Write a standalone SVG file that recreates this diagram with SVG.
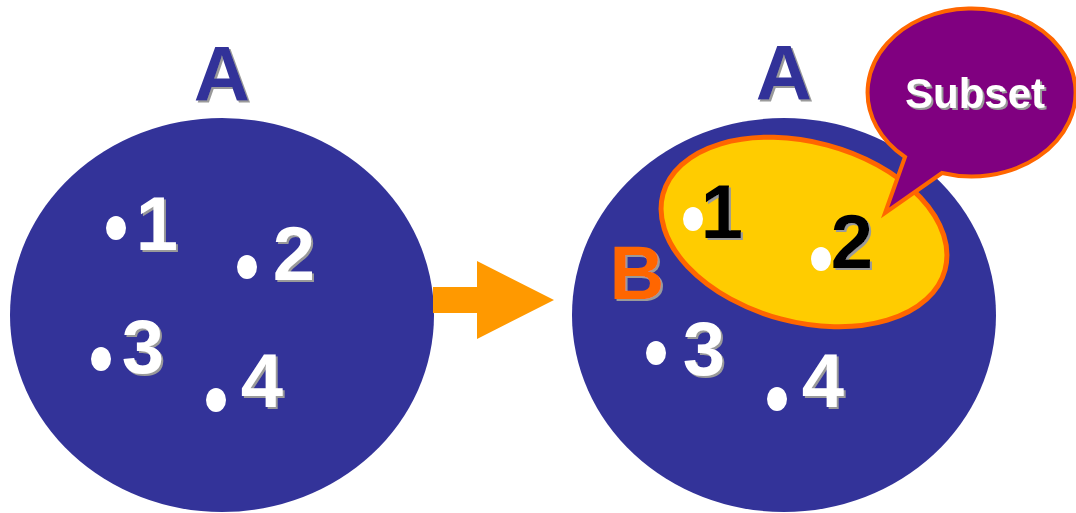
<svg xmlns="http://www.w3.org/2000/svg" width="1076" height="513" viewBox="0 0 1076 513">
<defs>
<filter id="sh" x="-20%" y="-20%" width="150%" height="150%">
<feDropShadow dx="2" dy="2" stdDeviation="0.6" flood-color="#9a9a9a" flood-opacity="1"/>
</filter>
</defs>
<style>
.set{fill:#333399}
.sub{fill:#FFCC00;stroke:#FF6600;stroke-width:5}
.bub{fill:#800080;stroke:#FF6600;stroke-width:4;stroke-linejoin:miter}
.dot{fill:#ffffff}
.t{font-family:"Liberation Sans",Arial,sans-serif;font-weight:bold;text-anchor:middle;filter:url(#sh)}
.big{font-size:78px;fill:#333399}
.num{font-size:76px;fill:#ffffff}
.blk{fill:#000000}
.b{font-size:76px;fill:#FF6600}
.s{font-size:42px;fill:#ffffff}
</style>
<g id="setA-left">
<ellipse class="set" cx="222" cy="315" rx="212" ry="197"/>
<text class="t big" x="222" y="101">A</text>
<ellipse class="dot" cx="116" cy="228" rx="10" ry="12"/>
<text class="t num" x="157" y="250">1</text>
<ellipse class="dot" cx="247" cy="267" rx="10" ry="12"/>
<text class="t num" x="294" y="280">2</text>
<ellipse class="dot" cx="101" cy="359" rx="10" ry="12"/>
<text class="t num" x="143" y="373">3</text>
<ellipse class="dot" cx="216" cy="400" rx="10" ry="12"/>
<text class="t num" x="262" y="407">4</text>
</g>
<g id="connectors">
<polygon fill="#FF9900" points="433,287 477,287 477,261 554,300 477,339 477,313 433,313"/>
</g>
<g id="setA-right">
<ellipse class="set" cx="784" cy="315" rx="212" ry="197"/>
<text class="t big" x="784" y="100">A</text>
</g>
<g id="setB">
<ellipse class="sub" cx="804" cy="232" rx="146" ry="90" transform="rotate(15 804 232)"/>
<text class="t b" x="637" y="299">B</text>
</g>
<g id="elements-right">
<ellipse class="dot" cx="693" cy="219" rx="10" ry="12"/>
<text class="t num blk" x="722" y="238">1</text>
<ellipse class="dot" cx="821" cy="259" rx="10" ry="12"/>
<text class="t num blk" x="852" y="268">2</text>
<ellipse class="dot" cx="656" cy="353" rx="10" ry="12"/>
<text class="t num" x="704" y="375">3</text>
<ellipse class="dot" cx="777" cy="399" rx="10" ry="12"/>
<text class="t num" x="823" y="407">4</text>
</g>
<g id="subset-callout">
<path class="bub" d="M905,157 L885,213 L942,173 A104,84 0 1 0 905,157 Z"/>
<text class="t s" x="975" y="108">Subset</text>
</g>
</svg>
